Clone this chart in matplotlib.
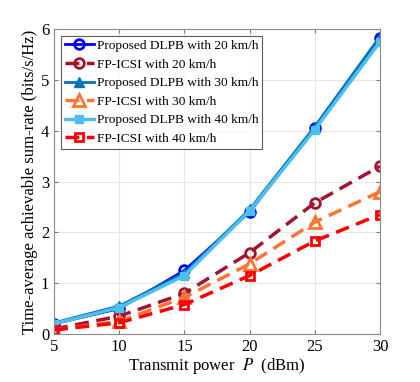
import numpy as np
import matplotlib.pyplot as plt

plt.rcParams['font.family'] = ['Liberation Serif', 'DejaVu Serif']
plt.rcParams['mathtext.fontset'] = 'stix'

power = [5, 10, 15, 20, 25, 30]

dlpb_20 = [0.20, 0.50, 1.25, 2.40, 4.05, 5.82]
fp_20 = [0.10, 0.35, 0.80, 1.60, 2.58, 3.30]
dlpb_30 = [0.22, 0.55, 1.20, 2.45, 4.08, 5.85]
fp_30 = [0.08, 0.25, 0.72, 1.38, 2.20, 2.80]
dlpb_40 = [0.20, 0.52, 1.15, 2.42, 4.02, 5.75]
fp_40 = [0.08, 0.22, 0.58, 1.15, 1.83, 2.35]

labels = ['Proposed DLPB with 20 km/h', 'FP-ICSI with 20 km/h',
          'Proposed DLPB with 30 km/h', 'FP-ICSI with 30 km/h',
          'Proposed DLPB with 40 km/h', 'FP-ICSI with 40 km/h']

fig = plt.figure(figsize=(4.2, 3.82), dpi=100)
ax = fig.add_axes([54/420, 1-334/382, 326/420, 305/382])

dash = (4, 2.2)
ax.plot(power, dlpb_20, '-o', color=(0, 0, 1), lw=2, ms=7, mfc='none', mew=2, label=labels[0])
ax.plot(power, fp_20, '--o', color=(0.64, 0.08, 0.18), lw=2.5, ms=7, mfc='none', mew=2,
        dashes=dash, label=labels[1])
ax.plot(power, dlpb_30, '-^', color=(0, 0.447, 0.741), lw=2, ms=7, label=labels[2])
ax.plot(power, fp_30, '--^', color=(1, 0.45, 0.2), lw=2.5, ms=8, mfc='none', mew=2,
        dashes=dash, label=labels[3])
ax.plot(power, dlpb_40, '-s', color=(0.3, 0.75, 0.93), lw=2.5, ms=6, label=labels[4])
ax.plot(power, fp_40, '--s', color=(1, 0, 0), lw=2.5, ms=6, mfc='none', mew=2,
        dashes=dash, label=labels[5])

ax.set_xlim(5, 30)
ax.set_ylim(0, 6)
ax.set_xticks(power)
ax.set_yticks(range(7))
ax.grid(True, color='#e6e6e6', lw=0.8)
ax.tick_params(direction='in', top=True, right=True, labelsize=12, color='#777777', length=3)
for s in ax.spines.values():
    s.set_color('#8c8c8c')
ax.set_xlabel('Transmit power  $P$  (dBm)', fontsize=12, labelpad=1)
ax.set_ylabel('Time-average achievable sum-rate (bits/s/Hz)', fontsize=12, labelpad=2)

leg = ax.legend(loc='upper left', fontsize=9.6, frameon=True, fancybox=False,
                handlelength=2.2, handletextpad=0.2, labelspacing=0.47,
                borderpad=0.3, borderaxespad=0.5)
leg.get_frame().set_edgecolor('#333333')
leg.get_frame().set_linewidth(0.8)

fig.savefig('out.png', dpi=100)
